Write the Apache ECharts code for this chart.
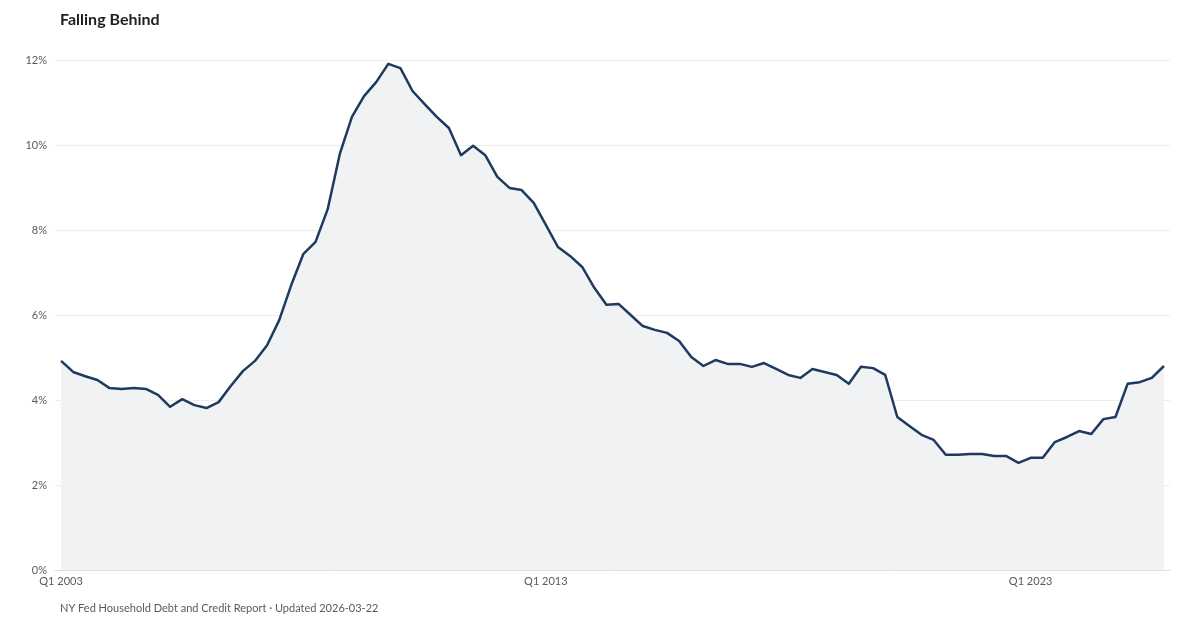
<!DOCTYPE html>
<html>
<head>
<meta charset="utf-8">
<script src="https://cdn.jsdelivr.net/npm/echarts@6/dist/echarts.min.js"></script>
<style>
  html, body { margin: 0; padding: 0; background: #ffffff; }
  #chart { width: 1200px; height: 630px; }
</style>
</head>
<body>
<div id="chart"></div>
<script>
const titleText = 'Falling Behind';
const footerText = 'NY Fed Household Debt and Credit Report · Updated 2026-03-22';

// Quarterly categories Q1 2003 .. Q4 2025
const firstYear = 2003;
const lastYear = 2025;
const categories = [];
for (let y = firstYear; y <= lastYear; y++) {
  for (let q = 1; q <= 4; q++) categories.push('Q' + q + ' ' + y);
}

// Share of balance 90+ days delinquent (%)
const values = [
  4.92, 4.66, 4.56, 4.47, 4.28, 4.26, 4.28, 4.26, 4.12, 3.84,
  4.02, 3.88, 3.81, 3.95, 4.33, 4.68, 4.92, 5.29, 5.88, 6.71,
  7.44, 7.72, 8.49, 9.79, 10.66, 11.15, 11.48, 11.91, 11.81, 11.27,
  10.96, 10.66, 10.40, 9.76, 9.98, 9.76, 9.25, 8.99, 8.94, 8.64,
  8.12, 7.60, 7.39, 7.13, 6.64, 6.24, 6.26, 6.00, 5.74, 5.65,
  5.58, 5.39, 5.01, 4.80, 4.94, 4.85, 4.85, 4.78, 4.87, 4.73,
  4.59, 4.52, 4.73, 4.66, 4.59, 4.38, 4.78, 4.75, 4.59, 3.60,
  3.39, 3.18, 3.06, 2.71, 2.71, 2.73, 2.73, 2.68, 2.68, 2.52,
  2.64, 2.64, 3.01, 3.13, 3.27, 3.20, 3.55, 3.60, 4.38, 4.42,
  4.52, 4.80
];

const yTicks = { min: 0, max: 12, interval: 2 };

const chart = echarts.init(document.getElementById('chart'), null, { renderer: 'canvas' });
const font = 'Lato, "Noto Sans", sans-serif';

chart.setOption({
  backgroundColor: '#ffffff',
  animation: false,
  textStyle: { fontFamily: font },
  title: {
    text: titleText,
    left: 55,
    top: 7,
    textStyle: { fontFamily: font, fontSize: 16, fontWeight: 'bold', color: '#1f1f1f' }
  },
  graphic: [{
    type: 'text',
    left: 60,
    top: 603,
    style: { text: footerText, font: '11px ' + font, fill: '#555b63' }
  }],
  grid: { left: 55, right: 30, top: 60, bottom: 60, containLabel: false },
  xAxis: {
    type: 'category',
    data: categories,
    boundaryGap: true,
    axisLine: { show: true, lineStyle: { color: '#dcdfe3', width: 1 } },
    axisTick: { show: false },
    axisLabel: { interval: 39, color: '#555b63', fontSize: 11, fontFamily: font, margin: 6 },
    splitLine: { show: false }
  },
  yAxis: {
    type: 'value',
    min: yTicks.min,
    max: yTicks.max,
    interval: yTicks.interval,
    axisLine: { show: false },
    axisTick: { show: false },
    axisLabel: { formatter: '{value}%', color: '#555b63', fontSize: 11, fontFamily: font, margin: 8 },
    splitLine: { lineStyle: { color: '#ebedef', width: 1 } }
  },
  series: [{
    type: 'line',
    data: values,
    showSymbol: false,
    symbol: 'none',
    lineStyle: { color: '#1f3a5f', width: 2.5, join: 'round' },
    itemStyle: { color: '#1f3a5f' },
    areaStyle: { color: '#f1f2f4', opacity: 1 }
  }]
});
</script>
</body>
</html>
